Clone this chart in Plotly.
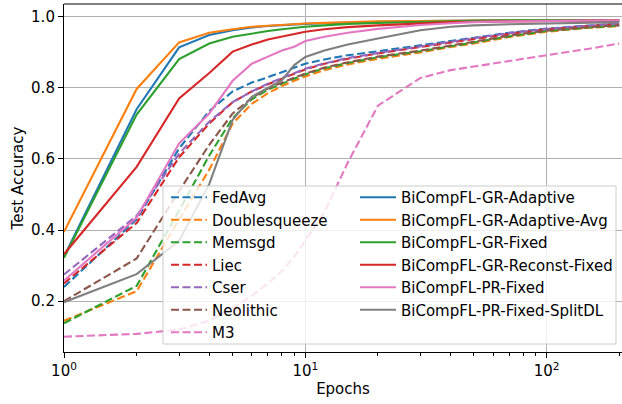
import plotly.graph_objects as go

epochs = [1, 2, 3, 4, 5, 6, 7, 8, 9, 10, 12, 15, 20, 30, 40, 50, 70, 100, 150, 200]

fedavg        = [0.240, 0.430, 0.630, 0.735, 0.790, 0.815, 0.830, 0.845, 0.858, 0.868, 0.880, 0.892, 0.903, 0.920, 0.932, 0.942, 0.955, 0.967, 0.976, 0.981]
doublesqueeze = [0.145, 0.228, 0.430, 0.570, 0.700, 0.755, 0.785, 0.805, 0.820, 0.832, 0.850, 0.866, 0.882, 0.900, 0.915, 0.925, 0.943, 0.958, 0.969, 0.974]
memsgd        = [0.138, 0.243, 0.455, 0.610, 0.715, 0.768, 0.795, 0.812, 0.826, 0.838, 0.855, 0.870, 0.886, 0.903, 0.918, 0.928, 0.945, 0.960, 0.970, 0.975]
liec          = [0.250, 0.420, 0.605, 0.700, 0.760, 0.790, 0.810, 0.827, 0.840, 0.852, 0.868, 0.882, 0.897, 0.915, 0.928, 0.938, 0.952, 0.965, 0.974, 0.980]
cser          = [0.275, 0.440, 0.615, 0.705, 0.760, 0.790, 0.812, 0.828, 0.842, 0.854, 0.869, 0.884, 0.898, 0.917, 0.930, 0.940, 0.954, 0.966, 0.975, 0.981]
neolithic     = [0.200, 0.320, 0.510, 0.640, 0.728, 0.772, 0.798, 0.815, 0.829, 0.840, 0.857, 0.872, 0.888, 0.905, 0.920, 0.930, 0.947, 0.961, 0.971, 0.976]
m3            = [0.100, 0.108, 0.120, 0.145, 0.180, 0.215, 0.250, 0.285, 0.325, 0.370, 0.450, 0.590, 0.750, 0.828, 0.850, 0.860, 0.876, 0.892, 0.910, 0.925]

gr_adaptive     = [0.325, 0.740, 0.914, 0.949, 0.962, 0.970, 0.974, 0.977, 0.979, 0.980, 0.982, 0.984, 0.986, 0.988, 0.989, 0.990, 0.990, 0.990, 0.990, 0.990]
gr_adaptive_avg = [0.395, 0.797, 0.928, 0.955, 0.965, 0.972, 0.975, 0.978, 0.980, 0.981, 0.983, 0.985, 0.987, 0.988, 0.989, 0.990, 0.990, 0.990, 0.990, 0.990]
gr_fixed        = [0.322, 0.725, 0.881, 0.925, 0.944, 0.953, 0.960, 0.965, 0.969, 0.972, 0.976, 0.980, 0.983, 0.986, 0.988, 0.989, 0.990, 0.990, 0.990, 0.990]
gr_reconst      = [0.332, 0.578, 0.770, 0.842, 0.902, 0.922, 0.936, 0.945, 0.952, 0.958, 0.965, 0.971, 0.976, 0.982, 0.985, 0.986, 0.987, 0.988, 0.989, 0.990]
pr_fixed        = [0.258, 0.435, 0.644, 0.728, 0.820, 0.868, 0.888, 0.905, 0.916, 0.932, 0.944, 0.955, 0.966, 0.977, 0.982, 0.985, 0.987, 0.988, 0.989, 0.990]
pr_splitdl      = [0.197, 0.276, 0.370, 0.530, 0.710, 0.775, 0.800, 0.822, 0.864, 0.887, 0.905, 0.922, 0.939, 0.962, 0.972, 0.976, 0.979, 0.981, 0.983, 0.985]

baselines = [
    ("FedAvg", fedavg, "#1f77b4"),
    ("Doublesqueeze", doublesqueeze, "#ff7f0e"),
    ("Memsgd", memsgd, "#2ca02c"),
    ("Liec", liec, "#d62728"),
    ("Cser", cser, "#9467bd"),
    ("Neolithic", neolithic, "#8c564b"),
    ("M3", m3, "#e377c2"),
]
ours = [
    ("BiCompFL-GR-Adaptive", gr_adaptive, "#1f77b4"),
    ("BiCompFL-GR-Adaptive-Avg", gr_adaptive_avg, "#ff7f0e"),
    ("BiCompFL-GR-Fixed", gr_fixed, "#2ca02c"),
    ("BiCompFL-GR-Reconst-Fixed", gr_reconst, "#d62728"),
    ("BiCompFL-PR-Fixed", pr_fixed, "#e377c2"),
    ("BiCompFL-PR-Fixed-SplitDL", pr_splitdl, "#7f7f7f"),
]

fig = go.Figure()
for name, ys, col in baselines:
    fig.add_trace(go.Scatter(x=epochs, y=ys, mode="lines", name=name, legend="legend",
                             line=dict(color=col, width=2.1, dash="8px,3.5px")))
for name, ys, col in ours:
    fig.add_trace(go.Scatter(x=epochs, y=ys, mode="lines", name=name, legend="legend2",
                             line=dict(color=col, width=2.1)))

W, H = 622, 404
L, R, T, B = 64, 0, 4, 52
pw, ph = W - L - R, H - T - B

def px(x):
    return (x - L) / pw

def py(y):
    return (H - B - y) / ph

font = dict(family="DejaVu Sans", size=15, color="#000000")

fig.add_shape(type="rect", xref="paper", yref="paper",
              x0=px(163), x1=px(616), y0=py(344), y1=py(186),
              fillcolor="rgba(255,255,255,0.8)", line=dict(color="#cccccc", width=1),
              layer="above")
# top spine
fig.add_shape(type="line", xref="paper", yref="paper", x0=0, x1=1, y0=1, y1=1,
              line=dict(color="black", width=1.1), layer="above")

minor_vals = [2, 3, 4, 5, 6, 7, 8, 9, 20, 30, 40, 50, 60, 70, 80, 90, 200]

fig.update_layout(
    width=W, height=H,
    margin=dict(l=L, r=R, t=T, b=B, autoexpand=False),
    paper_bgcolor="white", plot_bgcolor="white",
    font=font,
    xaxis=dict(type="log", range=[0, (W - L) / 241.3], tickvals=[1, 10, 100],
               ticktext=["10<sup>0</sup>", "10<sup>1</sup>", "10<sup>2</sup>"],
               showgrid=True, gridcolor="#b0b0b0", gridwidth=1,
               showline=True, linecolor="black", linewidth=1.1, mirror=False,
               ticks="outside", ticklen=5, tickwidth=1.1, tickcolor="black",
               minor=dict(tickvals=minor_vals, ticks="outside", ticklen=3, tickwidth=0.8,
                          tickcolor="black", showgrid=False),
               title=dict(text="Epochs", font=font, standoff=4),
               zeroline=False, tickfont=font, automargin=False),
    yaxis=dict(range=[0.057, 1.036], tickvals=[0.2, 0.4, 0.6, 0.8, 1.0],
               tickformat=".1f",
               showgrid=True, gridcolor="#b0b0b0", gridwidth=1,
               showline=True, linecolor="black", linewidth=1.1, mirror=False,
               ticks="outside", ticklen=5, tickwidth=1.1, tickcolor="black",
               title=dict(text="Test Accuracy", font=font, standoff=3),
               zeroline=False, tickfont=font, automargin=False),
    legend=dict(x=px(166), y=py(181), xanchor="left", yanchor="top",
                bgcolor="rgba(0,0,0,0)", borderwidth=0, font=font,
                itemwidth=36, tracegroupgap=0),
    legend2=dict(x=px(355), y=py(181), xanchor="left", yanchor="top",
                 bgcolor="rgba(0,0,0,0)", borderwidth=0, font=font,
                 itemwidth=36, tracegroupgap=0),
)

fig.write_html("out.html", config={"displayModeBar": False},
               post_script="document.body.style.margin='0px';")
